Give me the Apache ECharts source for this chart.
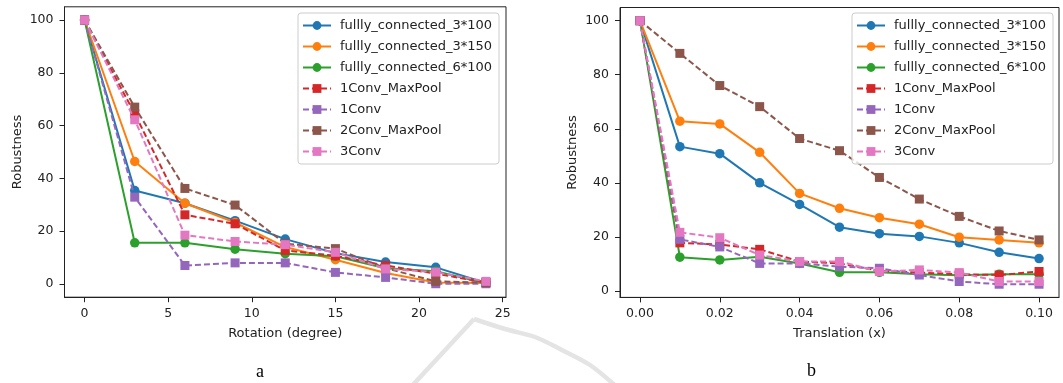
<!DOCTYPE html>
<html>
<head>
<meta charset="utf-8">
<script src="https://cdn.jsdelivr.net/npm/echarts@6/dist/echarts.min.js"></script>
<style>
html,body{margin:0;padding:0;background:#fff;}
#chart{width:1063px;height:383px;}
</style>
</head>
<body>
<div id="chart"></div>
<script>
// ---------- data ----------
const seriesNames = ['fullly_connected_3*100','fullly_connected_3*150','fullly_connected_6*100','1Conv_MaxPool','1Conv','2Conv_MaxPool','3Conv'];
const rotations = [0, 3, 6, 9, 12, 15, 18, 21, 24];
const translations = [0, 0.01, 0.02, 0.03, 0.04, 0.05, 0.06, 0.07, 0.08, 0.09, 0.10];

// Rotation (degree) robustness
const rotFc3x100 = [100, 35.4, 30.6, 24.0, 17.0, 11.7, 8.3, 6.3, 0.4];
const rotFc3x150 = [100, 46.4, 30.6, 23.3, 14.0, 9.2, 4.2, 0.6, 0.4];
const rotFc6x100 = [100, 15.6, 15.6, 13.2, 11.5, 10.5, 6.0, 4.8, 0.3];
const rot1ConvMaxPool = [100, 64.5, 26.2, 22.8, 12.7, 10.7, 7.0, 3.9, 0.6];
const rot1Conv = [100, 32.9, 7.0, 8.0, 8.0, 4.4, 2.5, 0.1, 0.1];
const rot2ConvMaxPool = [100, 67.0, 36.2, 29.9, 15.3, 13.4, 6.0, 1.0, 0.5];
const rot3Conv = [100, 62.2, 18.5, 16.1, 14.9, 12.0, 5.7, 4.5, 1.0];

// Translation (x) robustness
const trFc3x100 = [100, 53.4, 50.8, 40.0, 32.0, 23.6, 21.2, 20.2, 17.8, 14.3, 12.0];
const trFc3x150 = [100, 62.8, 61.8, 51.3, 36.1, 30.6, 27.1, 24.7, 19.9, 18.9, 17.8];
const trFc6x100 = [100, 12.5, 11.5, 12.7, 10.2, 6.9, 6.9, 6.2, 5.8, 6.2, 6.2];
const tr1ConvMaxPool = [100, 17.8, 17.2, 15.4, 10.9, 10.2, 7.5, 6.8, 6.2, 5.9, 7.2];
const tr1Conv = [100, 19.1, 16.3, 10.2, 10.2, 9.0, 8.4, 5.9, 3.5, 2.5, 2.5];
const tr2ConvMaxPool = [100, 87.9, 76.0, 68.2, 56.4, 51.9, 42.0, 34.0, 27.6, 22.2, 18.9];
const tr3Conv = [100, 21.7, 19.7, 13.3, 10.9, 10.9, 7.2, 7.8, 6.8, 3.5, 3.5];

const xTicksRot = [0, 5, 10, 15, 20, 25];
const xTicksTr = [0, 0.02, 0.04, 0.06, 0.08, 0.10];
const yTicks = [0, 20, 40, 60, 80, 100];

// ---------- styling ----------
const colors = ['#1f77b4','#ff7f0e','#2ca02c','#d62728','#9467bd','#8c564b','#e377c2'];
const FONT = 'DejaVu Sans';
const TXT = '#222';

const rotSets = [rotFc3x100, rotFc3x150, rotFc6x100, rot1ConvMaxPool, rot1Conv, rot2ConvMaxPool, rot3Conv];
const trSets = [trFc3x100, trFc3x150, trFc6x100, tr1ConvMaxPool, tr1Conv, tr2ConvMaxPool, tr3Conv];

function makeSeries(sets, xs, axisIdx) {
  return sets.map((vals, i) => {
    const dashed = i >= 3;
    return {
      name: seriesNames[i],
      type: 'line',
      xAxisIndex: axisIdx,
      yAxisIndex: axisIdx,
      data: xs.map((x, k) => [x, vals[k]]),
      symbol: dashed ? 'rect' : 'circle',
      symbolSize: dashed ? 9 : 9.5,
      showAllSymbol: true,
      clip: false,
      animation: false,
      z: 2 + i * 0.01,
      itemStyle: { color: colors[i] },
      lineStyle: { color: colors[i], width: 2, type: dashed ? [6, 3] : 'solid' },
      emphasis: { disabled: true }
    };
  });
}

function xAxis(gridIndex, min, max, ticks, name, fmt) {
  return {
    type: 'value', gridIndex, min, max, name,
    nameLocation: 'middle', nameGap: 30,
    nameTextStyle: { fontFamily: FONT, fontSize: 13, color: TXT },
    axisLine: { show: true, onZero: false, lineStyle: { color: TXT, width: 1 } },
    axisTick: { show: true, length: 5, lineStyle: { color: TXT, width: 1 }, customValues: ticks },
    axisLabel: { fontFamily: FONT, fontSize: 12.5, color: TXT, margin: 10, customValues: ticks, formatter: fmt },
    splitLine: { show: false }
  };
}
function yAxis(gridIndex, min, max, nameGap) {
  return {
    type: 'value', gridIndex, min, max, name: 'Robustness',
    nameLocation: 'middle', nameGap,
    nameTextStyle: { fontFamily: FONT, fontSize: 13, color: TXT },
    axisLine: { show: true, onZero: false, lineStyle: { color: TXT, width: 1 } },
    axisTick: { show: true, length: 5, lineStyle: { color: TXT, width: 1 }, customValues: yTicks },
    axisLabel: { fontFamily: FONT, fontSize: 12.5, color: TXT, margin: 11, customValues: yTicks },
    splitLine: { show: false }
  };
}

function legend(left) {
  return {
    data: seriesNames,
    orient: 'vertical',
    left, top: 13,
    itemWidth: 28, itemHeight: 11, itemGap: 8,
    padding: [6, 7, 6, 4],
    backgroundColor: 'rgba(255,255,255,0.8)',
    borderColor: '#cccccc', borderWidth: 1, borderRadius: 3,
    selectedMode: false,
    z: 10,
    textStyle: { fontFamily: FONT, fontSize: 13, color: TXT, padding: [0, 0, 0, 4] }
  };
}

const chart = echarts.init(document.getElementById('chart'), null, { renderer: 'canvas' });
chart.setOption({
  animation: false,
  backgroundColor: '#fff',
  grid: [
    { left: 64.5, top: 6.8, width: 441.5, height: 290.4, show: true, borderColor: TXT, borderWidth: 1, backgroundColor: 'transparent' },
    { left: 620, top: 7.5, width: 439, height: 289.9, show: true, borderColor: TXT, borderWidth: 1, backgroundColor: 'transparent' }
  ],
  xAxis: [
    xAxis(0, -1.2, 25.2, xTicksRot, 'Rotation (degree)', v => String(v)),
    xAxis(1, -0.005, 0.105, xTicksTr, 'Translation (x)', v => Number(v).toFixed(2))
  ],
  yAxis: [
    yAxis(0, -5, 105, 40),
    yAxis(1, -2.375, 104.875, 41)
  ],
  legend: [legend(298), legend(852)],
  series: [...makeSeries(rotSets, rotations, 0), ...makeSeries(trSets, translations, 1)],
  graphic: [
    { type: 'polyline', z: -1, silent: true,
      shape: { points: [[410, 388], [474, 319]] },
      style: { stroke: '#e4e4e4', lineWidth: 4.5, fill: null } },
    { type: 'polyline', z: -1, silent: true,
      shape: { points: [[474, 319], [505, 329], [535, 337], [560, 349], [590, 365], [618, 388]], smooth: 0.3 },
      style: { stroke: '#e4e4e4', lineWidth: 4.5, fill: null } },
    { type: 'text', left: 256, top: 363, style: { text: 'a', fontFamily: 'Liberation Serif', fontSize: 18, fill: '#000' } },
    { type: 'text', left: 807, top: 362, style: { text: 'b', fontFamily: 'Liberation Serif', fontSize: 18, fill: '#000' } }
  ]
});
</script>
</body>
</html>
